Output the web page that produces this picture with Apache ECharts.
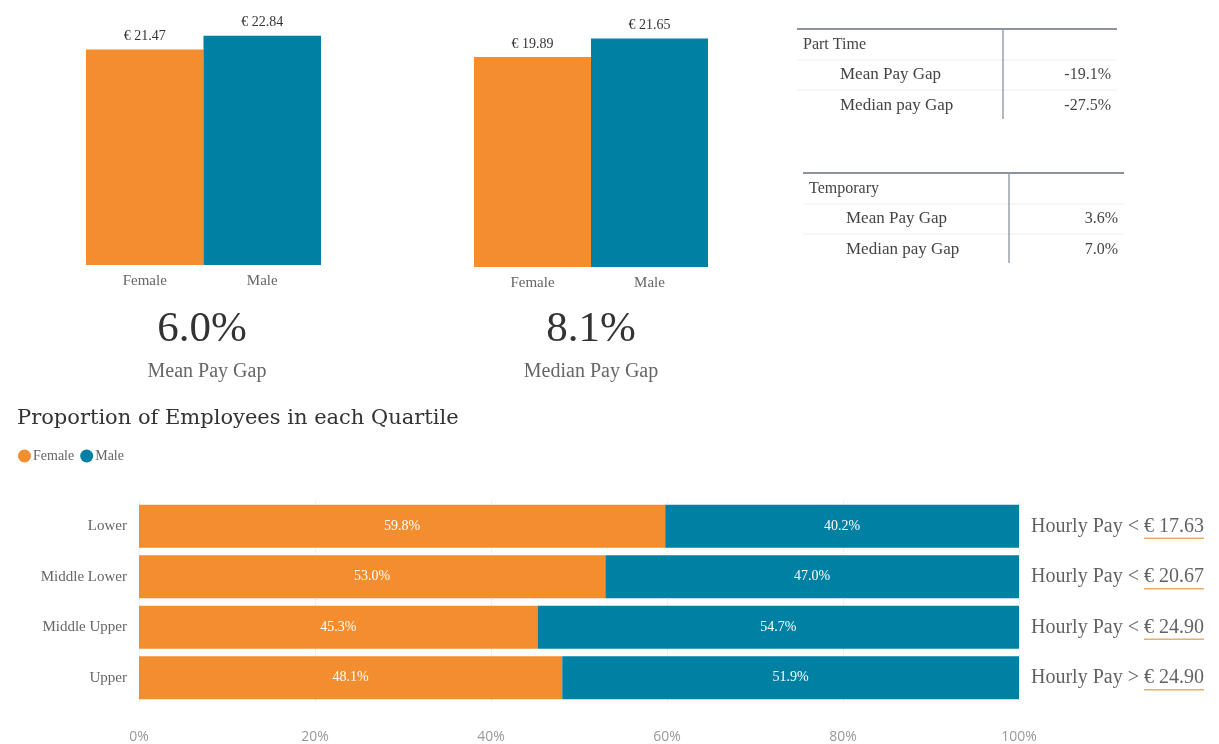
<!DOCTYPE html>
<html>
<head>
<meta charset="utf-8">
<style>
  html, body { margin: 0; padding: 0; background: #fff; }
  #main { width: 1219px; height: 744px; }
</style>
<script src="https://cdn.jsdelivr.net/npm/echarts@6/dist/echarts.min.js"></script>
</head>
<body>
<div id="main"></div>
<script>
// data
var genders = ['Female', 'Male'];
var meanPay = [21.47, 22.84];
var medianPay = [19.89, 21.65];
var gapHeadline = ['6.0%', '8.1%'];
var gapNames = ['Mean Pay Gap', 'Median Pay Gap'];

var quartiles = ['Lower', 'Middle Lower', 'Middle Upper', 'Upper'];
var femalePct = [59.8, 53.0, 45.3, 48.1];
var malePct = [40.2, 47.0, 54.7, 51.9];
var hourlySign = ['<', '<', '<', '>'];
var hourlyPay = ['€ 17.63', '€ 20.67', '€ 24.90', '€ 24.90'];

var partTimeRows = ['Mean Pay Gap', 'Median pay Gap'];
var partTimeVals = ['-19.1%', '-27.5%'];
var temporaryRows = ['Mean Pay Gap', 'Median pay Gap'];
var temporaryVals = ['3.6%', '7.0%'];

var ORANGE = '#f28e2f';
var BLUE = '#0080a3';
var SERIF = '"Liberation Serif", "Times New Roman", serif';

var box = document.getElementById('main');
var myChart = echarts.init(box);

function genderColor(p) { return p.dataIndex === 0 ? ORANGE : BLUE; }

function smallBars(gridIndex) {
    return {
        gridIndex: gridIndex,
        type: 'category',
        data: genders,
        axisLine: { show: false },
        axisTick: { show: false },
        axisLabel: { color: '#666', fontSize: 15, fontFamily: SERIF, margin: 9 }
    };
}

// 表格 + 大数字
function table(x0, x1, vx, top, head, rows, vals, id) {
    var g = [];
    g.push({ type: 'line', id: id + 'top', shape: { x1: x0, y1: top, x2: x1, y2: top }, style: { stroke: '#8c919b', lineWidth: 2 } });
    g.push({ type: 'line', id: id + 'sep1', shape: { x1: x0, y1: top + 31, x2: x1, y2: top + 31 }, style: { stroke: '#eeeeee', lineWidth: 1 } });
    g.push({ type: 'line', id: id + 'sep2', shape: { x1: x0, y1: top + 61, x2: x1, y2: top + 61 }, style: { stroke: '#eeeeee', lineWidth: 1 } });
    g.push({ type: 'line', id: id + 'v', shape: { x1: vx, y1: top, x2: vx, y2: top + 90 }, style: { stroke: '#9aa0a8', lineWidth: 1.5 } });
    g.push({ type: 'text', id: id + 'h', x: x0 + 6, y: top + 16, style: { text: head, fill: '#444', font: '16px ' + SERIF, verticalAlign: 'middle' } });
    for (var i = 0; i < rows.length; i++) {
        g.push({ type: 'text', id: id + 'r' + i, x: x0 + 43, y: top + 46 + i * 31, style: { text: rows[i], fill: '#444', font: '17px ' + SERIF, verticalAlign: 'middle' } });
        g.push({ type: 'text', id: id + 'val' + i, x: x1 - 6, y: top + 46 + i * 31, style: { text: vals[i], fill: '#444', font: '16px ' + SERIF, verticalAlign: 'middle', align: 'right' } });
    }
    return g;
}

var graphics = []
    .concat(table(797, 1117, 1003, 29, 'Part Time', partTimeRows, partTimeVals, 'pt'))
    .concat(table(803, 1124, 1009, 173, 'Temporary', temporaryRows, temporaryVals, 'tmp'));

var headX = [202, 591];
for (var k = 0; k < 2; k++) {
    graphics.push({ type: 'text', id: 'big' + k, x: headX[k], y: 330, style: { text: gapHeadline[k], fill: '#333', font: '43px ' + SERIF, align: 'center', verticalAlign: 'middle' } });
    graphics.push({ type: 'text', id: 'bigname' + k, x: headX[k] + (k === 0 ? 5 : 0), y: 372, style: { text: gapNames[k], fill: '#666', font: '20px ' + SERIF, align: 'center', verticalAlign: 'middle' } });
}

var option = {
    animation: false,
    title: {
        text: 'Proportion of Employees in each Quartile',
        left: 12,
        top: 403,
        textStyle: { fontFamily: '"DejaVu Serif", Georgia, serif', fontSize: 21, fontWeight: 'normal', color: '#333' }
    },
    legend: {
        data: ['Female', 'Male'],
        left: 13,
        top: 444,
        icon: 'circle',
        itemWidth: 13,
        itemHeight: 13,
        itemGap: 6,
        textStyle: { fontFamily: SERIF, fontSize: 14, color: '#666', padding: [0, 0, 0, -3] }
    },
    grid: [
        { left: 86, width: 235, top: 14, height: 251 },
        { left: 474, width: 234, top: 3, height: 264 },
        { left: 139, width: 880, top: 501, height: 202 }
    ],
    xAxis: [
        smallBars(0),
        smallBars(1),
        {
            gridIndex: 2,
            type: 'value',
            min: 0,
            max: 100,
            interval: 20,
            axisLine: { show: false },
            axisTick: { show: false },
            axisLabel: { formatter: '{value}%', color: '#999', fontSize: 14, fontFamily: '"Open Sans", sans-serif', margin: 27 },
            splitLine: { lineStyle: { color: '#e2e2e2', type: 'dotted' } }
        }
    ],
    yAxis: [
        { gridIndex: 0, type: 'value', min: 0, max: 25, show: false },
        { gridIndex: 1, type: 'value', min: 0, max: 25, show: false },
        {
            gridIndex: 2,
            type: 'category',
            data: quartiles,
            inverse: true,
            axisLine: { show: false },
            axisTick: { show: false },
            axisLabel: { color: '#666', fontSize: 15, fontFamily: SERIF, margin: 12 }
        }
    ],
    series: [
        {
            name: 'Mean',
            type: 'bar',
            xAxisIndex: 0, yAxisIndex: 0,
            barCategoryGap: '0%',
            data: meanPay,
            itemStyle: { color: genderColor },
            label: { show: true, position: 'top', distance: 6, color: '#333', fontSize: 14, fontFamily: SERIF, formatter: function (p) { return '€ ' + p.value.toFixed(2); } }
        },
        {
            name: 'Median',
            type: 'bar',
            xAxisIndex: 1, yAxisIndex: 1,
            barCategoryGap: '0%',
            data: medianPay,
            itemStyle: { color: genderColor },
            label: { show: true, position: 'top', distance: 6, color: '#333', fontSize: 14, fontFamily: SERIF, formatter: function (p) { return '€ ' + p.value.toFixed(2); } }
        },
        {
            name: 'Female',
            type: 'bar',
            xAxisIndex: 2, yAxisIndex: 2,
            stack: 'q',
            barCategoryGap: '15%',
            data: femalePct,
            itemStyle: { color: ORANGE },
            label: { show: true, position: 'inside', color: '#fff', fontSize: 14, fontFamily: SERIF, formatter: function (p) { return p.value.toFixed(1) + '%'; } }
        },
        {
            name: 'Male',
            type: 'bar',
            xAxisIndex: 2, yAxisIndex: 2,
            stack: 'q',
            data: malePct,
            itemStyle: { color: BLUE },
            label: { show: true, position: 'inside', color: '#fff', fontSize: 14, fontFamily: SERIF, formatter: function (p) { return p.value.toFixed(1) + '%'; } }
        },
        {
            // 右侧的小时工资标签
            name: 'Hourly',
            type: 'scatter',
            xAxisIndex: 2, yAxisIndex: 2,
            symbolSize: 0,
            silent: true,
            data: quartiles.map(function (q) { return [100, q]; }),
            label: {
                show: true,
                position: 'right',
                distance: 12,
                fontFamily: SERIF,
                fontSize: 20,
                color: '#3a3a3a',
                formatter: function (p) { return 'Hourly Pay ' + hourlySign[p.dataIndex] + ' ' + hourlyPay[p.dataIndex]; }
            }
        }
    ],
    graphic: graphics
};
myChart.setOption(option);

// 下划线: measure text and put a line under the amount
var ctx = document.createElement('canvas').getContext('2d');
ctx.font = '20px ' + SERIF;
var lines = [];
for (var i = 0; i < quartiles.length; i++) {
    var pt = myChart.convertToPixel({ gridIndex: 2 }, [100, quartiles[i]]);
    var pre = ctx.measureText('Hourly Pay ' + hourlySign[i] + ' ').width;
    var w = ctx.measureText(hourlyPay[i]).width;
    var x = pt[0] + 12 + pre;
    lines.push({ type: 'line', id: 'ul' + i, shape: { x1: x, y1: pt[1] + 12, x2: x + w, y2: pt[1] + 12 }, style: { stroke: '#e6ad72', lineWidth: 1.5 } });
}
myChart.setOption({ graphic: graphics.concat(lines) });
</script>
</body>
</html>
